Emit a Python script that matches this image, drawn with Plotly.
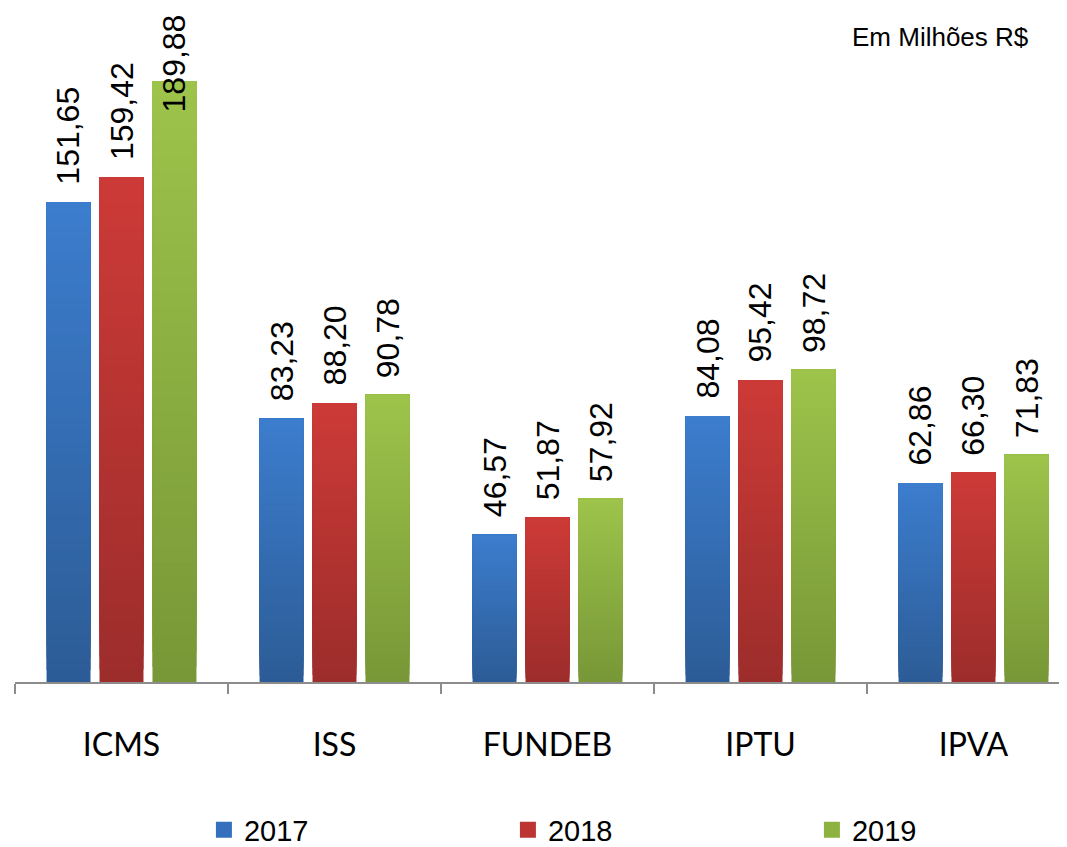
import plotly.graph_objects as go

categories = ["ICMS", "ISS", "FUNDEB", "IPTU", "IPVA"]
years = ["2017", "2018", "2019"]
values_2017 = [151.65, 83.23, 46.57, 84.08, 62.86]
values_2018 = [159.42, 88.20, 51.87, 95.42, 66.30]
values_2019 = [189.88, 90.78, 57.92, 98.72, 71.83]
series = [values_2017, values_2018, values_2019]
# gradient colours (bottom, top) per series
grad = [((44, 92, 150), (60, 125, 206)),
        ((156, 45, 43), (205, 58, 55)),
        ((120, 151, 55), (157, 196, 75))]
legend_colors = ["#3570BC", "#BD3532", "#8DB23F"]

W, H = 1059, 847
ML, MR, MT, MB = 7, 0, 0, 173
PW, PH = W - ML - MR, H - MT - MB
BARGAP = 0.254
YMAX = 213.0
LABEL_SPAN = 36.5  # approx label extent (gap + text) in data units
NSEG = 40

def mix(c0, c1, t):
    return "rgb(%d,%d,%d)" % tuple(round(a + (b - a) * t) for a, b in zip(c0, c1))

fig = go.Figure()
for s, (name, vals, (cb, ct)) in enumerate(zip(years, series, grad)):
    # each layer runs from its base to the top of the bar; later layers cover the upper part
    for k in range(NSEG):
        fig.add_trace(go.Bar(
            x=categories,
            y=[v - v * k / NSEG for v in vals],
            base=[v * k / NSEG for v in vals],
            name=name, legendgroup=name, offsetgroup=str(s),
            showlegend=False,
            marker=dict(color=mix(cb, ct, (k + 0.5) / NSEG), line=dict(width=0)),
            hoverinfo="skip",
        ))

# legend entries (square swatches)
for name, col in zip(years, legend_colors):
    fig.add_trace(go.Scatter(
        x=[None], y=[None], mode="markers", name=name, legendgroup=name,
        marker=dict(symbol="square", size=16, color=col),
        showlegend=True,
    ))

def fmt(v):
    return f"{v:.2f}".replace(".", ",")

slot = (1 - BARGAP) / 3
lab_font = dict(family="Liberation Sans, Arial", size=32, color="#000")
for i, vals in enumerate(series):
    for j, v in enumerate(vals):
        xpos = j + (i - 1) * slot
        if v + LABEL_SPAN > YMAX:
            fig.add_annotation(x=xpos, xref="x", y=1, yref="paper",
                               yanchor="top", yshift=-4, text=fmt(v),
                               textangle=-90, showarrow=False, font=lab_font)
        else:
            fig.add_annotation(x=xpos, xref="x", y=v, yref="y",
                               yanchor="bottom", yshift=15, text=fmt(v),
                               textangle=-90, showarrow=False, font=lab_font)

fig.add_annotation(text="Em Milhões R$", xref="paper", yref="paper",
                   x=(1023 - ML) / PW, y=1 - 29 / PH, xanchor="right", yanchor="middle",
                   showarrow=False,
                   font=dict(family="Liberation Sans, Arial", size=26, color="#000"))

fig.update_layout(
    width=W, height=H,
    margin=dict(l=ML, r=MR, t=MT, b=MB),
    paper_bgcolor="white", plot_bgcolor="white",
    barmode="group", bargap=BARGAP, bargroupgap=0.17,
    showlegend=True,
    legend=dict(orientation="h", xref="container", yref="container",
                x=0.185, y=1 - 822 / H, xanchor="left", yanchor="middle",
                entrywidth=259, entrywidthmode="pixels", itemsizing="trace",
                font=dict(family="Liberation Sans, Arial", size=29, color="#000")),
    xaxis=dict(range=[-0.5, 4.439], showline=True, linecolor="#8c8c8c", linewidth=1.5,
               ticks="outside", tickson="boundaries", ticklen=10, tickcolor="#8c8c8c",
               tickwidth=1.5, showgrid=False, ticklabelstandoff=34,
               tickfont=dict(family="Lato, Liberation Sans", size=32, color="#000")),
    yaxis=dict(range=[0, YMAX], visible=False, showgrid=False, zeroline=False),
)

fig.write_html("out.html")
